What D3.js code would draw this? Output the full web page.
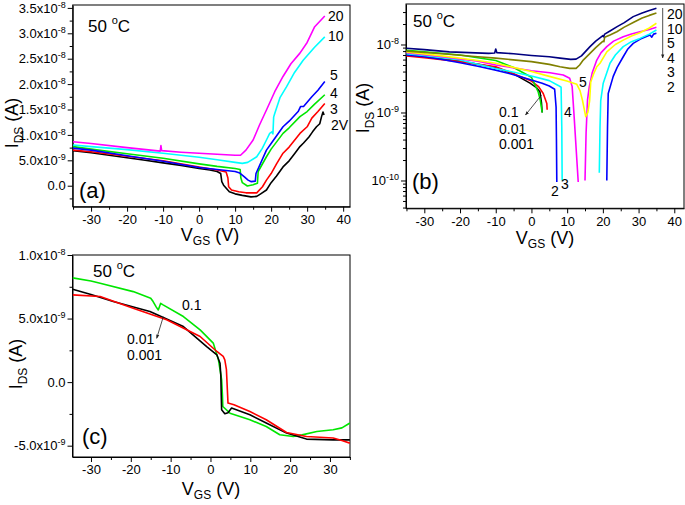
<!DOCTYPE html>
<html><head><meta charset="utf-8">
<script src="https://cdn.jsdelivr.net/npm/d3@7"></script>
<style>body{margin:0;background:#fff}svg{display:block;font-family:"Liberation Sans",Arial,sans-serif}</style>
</head><body><svg id="c" width="685" height="505"></svg>
<script>
// ---------- DATA (VGS in V, IDS in nA = 1e-9 A) ----------
// Panel (a): linear IDS, curves labelled by VDS
const a2V = [[-35,6.9],[-30,6.5],[-25,6.0],[-20,5.5],[-15,5.0],[-10,4.5],[-5,4.0],[0,3.4],[3,3.1],[5,2.8],[6,2.4],[6.3,0.8],[6.8,0.1],[8.4,-1.2],[10,-1.6],[12,-1.9],[14.4,-2.2],[16,-2.1],[17.1,-1.6],[18.7,-0.85],[20,0.6],[21.5,1.9],[23.3,3.7],[25,4.9],[26.5,6.3],[28,7.7],[29,8.4],[30.5,9.6],[31.5,10.6],[32.6,11.6],[33.5,12.2],[34,13.6],[34.4,14.5],[34.7,13.9]];
const a3V = [[-35,7.0],[-30,6.7],[-20,5.8],[-10,4.9],[0,3.7],[5,3.1],[7.5,2.7],[8.0,1.5],[8.2,-0.2],[9,-0.85],[11,-1.2],[13,-1.4],[16,-1.4],[17.6,-0.2],[18.7,1.1],[20,2.4],[21.5,4.3],[23.3,6.4],[25,7.6],[28,10.3],[30,11.6],[31.3,13.3],[33,14.6],[34.9,16.2]];
const a4V = [[-35,7.7],[-30,7.2],[-20,6.3],[-10,5.4],[0,4.3],[5,3.8],[10,3.4],[11.4,3.2],[11.6,1.5],[12,0.6],[13.4,-0.06],[15,0.2],[16.2,0.5],[16.4,2.8],[18.7,5.7],[20,7.2],[23.3,10.3],[25,11.4],[28,13.6],[30,14.6],[32,16.0],[34.9,17.9]];
const a5V = [[-35,7.4],[-30,7.0],[-20,5.9],[-10,4.8],[0,3.6],[5,3.2],[10,2.8],[11.3,2.5],[12.5,1.8],[13.6,1.1],[14.5,0.8],[15.6,0.9],[15.8,2.4],[18.7,7.0],[20,8.3],[23.3,11.6],[25,12.7],[27.5,14.6],[28.2,15.6],[29,15.6],[31.3,17.5],[33,18.8],[34.9,20.5]];
const a10V = [[-35,8.0],[-30,7.7],[-20,7.1],[-10,6.4],[0,5.6],[5,5.1],[10,4.6],[12,4.4],[13.5,4.6],[16,5.7],[17.5,7.3],[18.7,9.0],[19.6,10.3],[20.2,10.6],[20.5,10.2],[20.7,13.5],[21,14.2],[22.5,17.4],[24.3,19.5],[26.5,22.3],[28.9,24.7],[32,27.2],[34.9,29.3]];
const a20V = [[-35,8.66],[-30,8.3],[-20,7.5],[-10.8,6.8],[-10.6,7.9],[-10.4,6.9],[-5,6.6],[0,6.4],[5,6.2],[10,6.0],[11.5,6.0],[13,7.0],[15,9.0],[16.8,12.0],[18.7,14.9],[21,18.5],[23.3,21.5],[25.5,24.0],[28,26.1],[30,28.2],[32.1,31.3],[34.9,33.4]];
const aLabels = ["2V","3","4","5","10","20"];

// Panel (b): |IDS| on log axis (null = gap)
const b2 = [[-35,7.0],[-30,6.6],[-25,6.0],[-20,5.4],[-15,4.8],[-10,4.2],[-5,3.6],[0,3.0],[3,2.7],[5,2.45],[6.5,2.2],[6.9,1.2],[7.0,0.4],[7.1,0.095],null,[21.1,0.1],[21.3,0.6],[21.5,1.9],[22.9,3.4],[24,4.6],[25.7,6.6],[27,8.6],[28.5,10.4],[30.5,12.0],[33.2,13.8],[33.7,12.8],[34.2,14.2],[35,14.6]];
const b3 = [[-35,7.3],[-30,6.9],[-20,5.9],[-10,4.45],[0,3.44],[5,2.94],[7.5,2.5],[8.3,2.35],[8.5,0.6],[8.6,0.1],null,[19.0,0.13],[19.2,0.6],[19.4,1.5],[20.1,2.7],[22.0,5.3],[23.5,7.0],[25.7,9.3],[28,11],[30.4,12.3],[33,14.2],[35,16.3]];
const b4 = [[-35,7.6],[-25,6.6],[-15,5.7],[-10,5.0],[0,4.1],[5.2,3.85],[8.9,3.56],[10.7,3.18],[11.4,2.4],[12.0,0.8],[12.6,0.25],[13.1,0.095],null,[15.0,0.1],[15.3,0.5],[15.7,1.53],[16.2,2.4],[17,3.8],[18.3,5.9],[19.5,7.6],[21.1,9.3],[23,11.2],[25.7,13],[28,14.3],[30.4,15.4],[33,16.6],[35,17.9]];
const b5 = [[-35,7.8],[-25,6.8],[-15,5.8],[-10,5.3],[0,4.0],[5,3.4],[9.9,2.9],[12.7,2.6],[13.6,2.1],[14.3,1.5],[15.2,0.87],[15.8,1.0],[16.3,1.5],[16.6,2.8],[17.5,3.8],[18.3,4.7],[19.2,5.3],[21.1,7.8],[23.5,10],[25.7,11.6],[28,13.3],[30.4,14.9],[33,17.5],[35,20.5]];
const b10 = [[-35,8.0],[-25,7.3],[-15,6.6],[-10,6.3],[0,5.6],[5,5.1],[8,4.7],[10.7,4.45],[12.5,4.45],[13.5,5.0],[14.5,5.9],[16.4,7.4],[18,9.0],[19.8,10.9],[20.1,11.2],[20.3,11.0],[20.5,12.8],[22,13.8],[23.9,15.4],[26,18.0],[28.5,21],[31,24.5],[33,26.8],[35,29]];
const b20 = [[-35,8.8],[-30,8.4],[-23,7.8],[-12,7.4],[-10.3,7.5],[-10,8.6],[-9.7,7.6],[-5,7.3],[0,6.9],[5,6.6],[8,6.3],[11,6.05],[12.5,6.1],[14,6.8],[16.4,9.3],[18,11.2],[20,13.5],[20.2,13.0],[20.5,14.2],[22,15.8],[24,18.3],[26,21],[28.5,25.7],[31,29],[33,31.5],[35,34]];
const b01 = [[-35,8.2],[-30,7.8],[-20,7.0],[-10,5.8],[-5,4.6],[0,3.3],[1.9,2.0],[2.5,1.5],[2.9,1.09],[3.0,1.0]];
const b001 = [[-35,6.8],[-30,6.4],[-20,5.6],[-10,4.7],[-5,3.7],[0,2.9],[2,2.4],[3.3,1.9],[4.0,1.5],[4.3,1.36],[4.4,1.1]];
const b0001 = [[-35,7.0],[-30,6.6],[-20,5.7],[-10,4.6],[-5,3.7],[-0.4,2.7],[1.5,2.3],[2.4,2.0],[2.8,1.4],[3.0,1.0]];
const bLabels = ["20","10","5","4","3","2"];

// Panel (c): linear IDS at low VDS
const c01 = [[-34.6,8.2],[-30,7.95],[-27.7,7.78],[-19.4,7.12],[-15,6.6],[-14.4,6.34],[-13.6,5.9],[-13.1,5.68],[-12.5,6.2],[-12,6.1],[-6.8,5.16],[-2.6,4.11],[0.7,3.07],[2.0,1.75],[2.6,0.6],[2.8,0.18],[3.0,-1.0],[3.1,-1.92],[4.9,-2.44],[9.9,-2.96],[14,-3.49],[17.4,-4.14],[20.8,-4.28],[23,-4.15],[26.7,-3.88],[30.8,-3.75],[33,-3.6],[35,-3.22]];
const c0001 = [[-34.6,7.3],[-30,6.9],[-24.4,6.34],[-15.2,5.55],[-6.8,4.37],[-0.95,2.8],[1.6,2.15],[2.4,1.49],[2.6,0.5],[2.7,-1.0],[2.8,-2.18],[3.6,-2.49],[4.4,-2.4],[5.3,-2.04],[9.9,-2.57],[14,-3.22],[19.1,-4.01],[24.1,-4.48],[30.8,-4.54],[35,-4.54]];
const c001 = [[-34.6,6.86],[-27.7,6.73],[-19.4,5.82],[-11,4.9],[-2.6,3.59],[1.6,2.41],[3.2,2.02],[3.6,1.75],[4.0,1.0],[4.3,-1.0],[4.4,-1.65],[5.9,-1.78],[9.9,-2.31],[14,-2.96],[19.1,-3.96],[24.1,-4.28],[30.8,-4.40],[33,-4.6],[35,-4.80]];
const cLabels = ["0.1","0.01","0.001"];

// Tick values / labels
const xMajorAB = [-30,-20,-10,0,10,20,30,40];
const xMinorAB = [-35,-25,-15,-5,5,15,25,35];
const xMajorC = [-30,-20,-10,0,10,20,30];
const xMinorC = [-25,-15,-5,5,15,25,35];
const aYTicks = [0,5,10,15,20,25,30,35];
const aYMant = ["0.0","5.0x10","1.0x10","1.5x10","2.0x10","2.5x10","3.0x10","3.5x10"];
const aYExp = ["","-9","-8","-8","-8","-8","-8","-8"];
const aYMinor = [-2.5,2.5,7.5,12.5,17.5,22.5,27.5,32.5];
const bYTicks = [1e-10,1e-9,1e-8];
const bYExp = ["-10","-9","-8"];
const bYMinor = [4e-11,5e-11,6e-11,7e-11,8e-11,9e-11,2e-10,3e-10,4e-10,5e-10,6e-10,7e-10,8e-10,9e-10,2e-9,3e-9,4e-9,5e-9,6e-9,7e-9,8e-9,9e-9,2e-8,3e-8];
const cYTicks = [-5,0,5,10];
const cYMant = ["-5.0x10","0.0","5.0x10","1.0x10"];
const cYExp = ["-9","","-9","-8"];
const cYMinor = [-2.5,2.5,7.5];

// ---------- DRAWING ----------
const svg = d3.select("#c");
const defs = svg.append("defs");
defs.append("marker").attr("id","arr").attr("viewBox","0 0 10 10").attr("refX",9).attr("refY",5)
  .attr("markerWidth",5).attr("markerHeight",5).attr("orient","auto")
  .append("path").attr("d","M0,1L10,5L0,9z").attr("fill","#222");

function panel(id, xr, xd, yr, yd, log){
  const x = d3.scaleLinear().domain(xd).range(xr);
  const y = (log ? d3.scaleLog() : d3.scaleLinear()).domain(yd).range(yr);
  defs.append("clipPath").attr("id","clip"+id).append("rect")
    .attr("x",xr[0]).attr("y",yr[1]).attr("width",xr[1]-xr[0]).attr("height",yr[0]-yr[1]);
  const g = svg.append("g");
  return {x,y,g,xr,yr,id};
}
function styleAxis(sel){
  sel.selectAll("path.domain").attr("stroke","#000");
  sel.selectAll(".tick line").attr("stroke","#000");
  sel.selectAll("text").attr("font-size","13px").attr("fill","#000")
    .attr("font-family","'Liberation Sans', Arial, sans-serif");
}
function axes(P, xMaj, xMin, yMaj, yMin, mant, exps){
  const {x,y,g,xr,yr} = P;
  const gx = g.append("g").attr("transform",`translate(0,${yr[0]})`)
    .call(d3.axisBottom(x).tickValues(xMaj).tickSize(5).tickSizeOuter(0).tickPadding(3).tickFormat(d3.format("d")));
  styleAxis(gx);
  gx.selectAll(".tick text").text(d=> d<0 ? "-"+Math.abs(d) : d);
  const gxm = g.append("g").attr("transform",`translate(0,${yr[0]})`)
    .call(d3.axisBottom(x).tickValues(xMin).tickSize(3).tickSizeOuter(0).tickFormat(""));
  styleAxis(gxm); gxm.select("path.domain").remove();
  gxm.selectAll("text").remove();
  const gy = g.append("g").attr("transform",`translate(${xr[0]},0)`)
    .call(d3.axisLeft(y).tickValues(yMaj).tickSize(5).tickSizeOuter(0).tickPadding(2));
  styleAxis(gy);
  gy.selectAll(".tick text").each(function(d,i){
    const t = d3.select(this); t.text(null);
    t.append("tspan").text(mant[i]);
    if(exps[i]) t.append("tspan").attr("dy",-5).attr("font-size","9px").text(exps[i]);
  });
  const gym = g.append("g").attr("transform",`translate(${xr[0]},0)`)
    .call(d3.axisLeft(y).tickValues(yMin).tickSize(3).tickSizeOuter(0).tickFormat(""));
  styleAxis(gym); gym.select("path.domain").remove();
  gym.selectAll("text").remove();
  g.append("rect").attr("x",xr[0]).attr("y",yr[1]).attr("width",xr[1]-xr[0]).attr("height",yr[0]-yr[1])
    .attr("fill","none").attr("stroke","#000").attr("stroke-width",1);
}
function curve(P, data, color, log){
  const line = d3.line().defined(d=>d!=null).x(d=>P.x(d[0])).y(d=>P.y(log? d[1]*1e-9 : d[1]));
  P.g.append("path").attr("d",line(data)).attr("fill","none").attr("stroke",color)
    .attr("stroke-width",1.6).attr("stroke-linejoin","round").attr("clip-path",`url(#clip${P.id})`);
}
// parts: plain strings, {sub}, {sup}; the next plain part returns to the baseline with a relative dy
function txt(x,y,parts,size,opts={}){
  const t = svg.append("text").attr("x",x).attr("y",y).attr("font-size",size+"px").attr("fill","#000")
    .style("white-space","pre");
  if(opts.anchor) t.attr("text-anchor",opts.anchor);
  if(opts.rotate) t.attr("transform",`rotate(-90,${x},${y})`);
  let pending = 0;
  parts.forEach(p=>{
    if(typeof p==="string"){
      const s = t.append("tspan").text(p);
      if(pending){ s.attr("dy",pending); pending=0; }
    } else if(p.sub){ t.append("tspan").attr("dy",p.dy).attr("font-size",p.size+"px").text(p.sub); pending=-p.dy; }
    else if(p.sup){ t.append("tspan").attr("dy",-p.dy).attr("font-size",p.size+"px").text(p.sup); pending=p.dy; }
  });
  return t;
}
function arrow(x1,y1,x2,y2){
  svg.append("line").attr("x1",x1).attr("y1",y1).attr("x2",x2).attr("y2",y2)
    .attr("stroke","#222").attr("stroke-width",0.8).attr("marker-end","url(#arr)");
}

// Panel (a)
const A = panel("a",[72.7,350],[-35.1,41.9],[206.7,5],[-4.13,35.57],false);
axes(A,xMajorAB,xMinorAB,aYTicks,aYMinor,aYMant,aYExp);
[[a2V,"#000000"],[a3V,"#ff0000"],[a4V,"#00e600"],[a5V,"#0000ff"],[a10V,"#00ffff"],[a20V,"#ff00ff"]].forEach(s=>curve(A,s[0],s[1],false));
const aLabPos = [[331,130],[330,114],[330,98],[330,80],[328,41],[328,21]];
aLabels.forEach((l,i)=>txt(aLabPos[i][0],aLabPos[i][1],[l],14));
txt(88,32,["50 ",{sup:"o",size:11,dy:8},"C"],17);
txt(79,198,["(a)"],22);
txt(18,123,["I",{sub:"DS",size:12,dy:5}," (A)"],18,{anchor:"middle",rotate:true});
txt(210,241,["V",{sub:"GS",size:12,dy:4}," (V)"],18,{anchor:"middle"});

// Panel (b)
const B = panel("b",[406,684],[-35.13,42.72],[208.3,4],[3.9e-11,3.94e-8],true);
axes(B,xMajorAB,xMinorAB,bYTicks,bYMinor,bYTicks.map(()=> "10"),bYExp);
[[b0001,"#000000"],[b001,"#ff0000"],[b01,"#00e600"],[b2,"#0000ff"],[b3,"#00ffff"],[b4,"#ff00ff"],[b5,"#ffff00"],[b10,"#808000"],[b20,"#000080"]].forEach(s=>curve(B,s[0],s[1],true));
const bLabY = [18.5,33.5,48,62.5,77,91.5];
bLabels.forEach((l,i)=>txt(667,bLabY[i],[l],14));
arrow(662.7,8,662.7,58);
txt(583,87,["5"],14,{anchor:"middle"});
txt(568,117,["4"],14,{anchor:"middle"});
txt(555,196,["2"],14,{anchor:"middle"});
txt(565,189,["3"],14,{anchor:"middle"});
txt(499,117,["0.1"],14); txt(499,133.5,["0.01"],14); txt(499,148.5,["0.001"],14);
arrow(541.5,95,525.5,115);
txt(413,27,["50 ",{sup:"o",size:11,dy:8},"C"],17);
txt(412,189,["(b)"],22);
txt(369,108,["I",{sub:"DS",size:12,dy:5}," (A)"],18,{anchor:"middle",rotate:true});
txt(545,244,["V",{sub:"GS",size:12,dy:4}," (V)"],18,{anchor:"middle"});

// Panel (c)
const C = panel("c",[72.5,350],[-34.64,35.03],[457,255],[-5.89,10],false);
axes(C,xMajorC,xMinorC,cYTicks,cYMinor,cYMant,cYExp);
[[c01,"#00e600"],[c0001,"#000000"],[c001,"#ff0000"]].forEach(s=>curve(C,s[0],s[1],false));
txt(182,310,[cLabels[0]],14); txt(127,343.5,[cLabels[1]],14); txt(127,360,[cLabels[2]],14);
arrow(163.3,316.7,156.7,338.3);
txt(93,277,["50 ",{sup:"o",size:11,dy:8},"C"],17);
txt(82,444,["(c)"],22);
txt(22,364,["I",{sub:"DS",size:12,dy:5}," (A)"],18,{anchor:"middle",rotate:true});
txt(211,495,["V",{sub:"GS",size:12,dy:4}," (V)"],18,{anchor:"middle"});
</script></body></html>
